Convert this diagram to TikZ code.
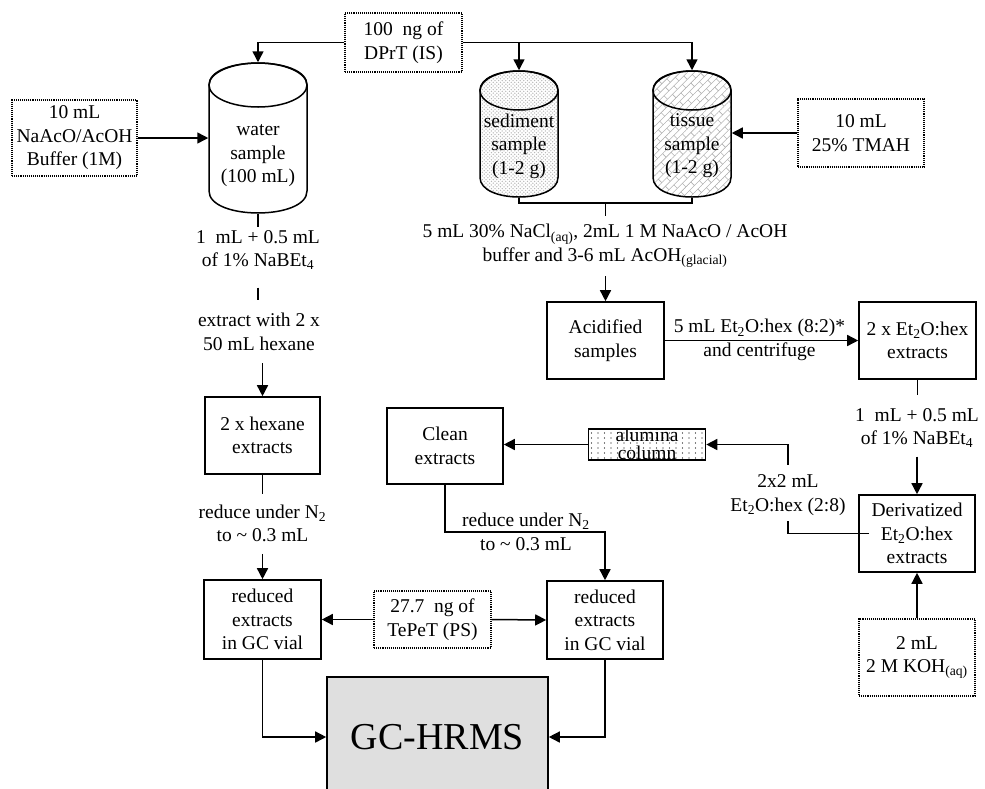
\documentclass[tikz,border=0pt]{standalone}
\usepackage{fontspec}
\setmainfont{Liberation Serif}
\usetikzlibrary{arrows.meta,patterns,patterns.meta}

\pgfdeclarepatternformonly{seddots}{\pgfqpoint{-1pt}{-1pt}}{\pgfqpoint{3.5pt}{3.5pt}}{\pgfqpoint{3.6pt}{3.6pt}}{%
  \pgfpathcircle{\pgfqpoint{0pt}{0pt}}{0.75pt}%
  \pgfpathcircle{\pgfqpoint{1.8pt}{1.8pt}}{0.75pt}%
  \pgfusepath{fill}}
\pgfdeclarepatternformonly{alumdots}{\pgfqpoint{-1pt}{-1pt}}{\pgfqpoint{1pt}{1pt}}{\pgfqpoint{6.5pt}{5pt}}{%
  \pgfpathcircle{\pgfpointorigin}{0.65pt}\pgfusepath{fill}}
\tikzdeclarepattern{
  name=diagbricks, type=uncolored,
  bottom left={(-0.5pt,-0.5pt)}, top right={(14.5pt,10.5pt)},
  tile size={(14pt,10pt)}, tile transformation={rotate=45},
  code={\draw[line width=0.6pt] (0pt,0pt) -- (14pt,0pt) (0pt,5pt) -- (14pt,5pt) (0pt,0pt) -- (0pt,5pt) (7pt,5pt) -- (7pt,10pt);}
}

\begin{document}
\begin{tikzpicture}[x=1pt,y=-1pt,line width=1.5pt,
  every node/.style={font=\fontsize{19.5}{23.5}\selectfont,align=center,inner sep=0pt},
  solidbox/.style={draw,line width=1.6pt,minimum width=117pt,minimum height=77pt},
  dotbox/.style={draw,densely dotted,line width=1.1pt},
  arr/.style={-{Triangle[length=11pt,width=11pt]}},
  cylbody/.style={draw,line width=1.5pt}]
\useasboundingbox (0,0) rectangle (985,788);

% ---- cylinders ----
\path[cylbody] (209,85) -- (209,191) .. controls (209,220.3) and (307,220.3) .. (307,191) -- (307,85) .. controls (307,55.7) and (209,55.7) .. (209,85) -- cycle;
\draw (258,85) ellipse[x radius=49, y radius=22];
\path[cylbody,pattern=seddots,pattern color=gray!55] (480,90.5) -- (480,177.5) .. controls (480,203.5) and (558,203.5) .. (558,177.5) -- (558,90.5) .. controls (558,64.5) and (480,64.5) .. (480,90.5) -- cycle;
\draw (519,90.5) ellipse[x radius=39, y radius=19.5];
\path[cylbody,pattern=diagbricks,pattern color=gray!60] (653,90.5) -- (653,177.5) .. controls (653,203.5) and (731,203.5) .. (731,177.5) -- (731,90.5) .. controls (731,64.5) and (653,64.5) .. (653,90.5) -- cycle;
\draw (692,90.5) ellipse[x radius=39, y radius=19.5];

\node[minimum width=98pt,minimum height=150pt] (water) at (258,138) {};
\node[minimum width=78pt,minimum height=126pt] (sed) at (519,134) {};
\node[minimum width=78pt,minimum height=126pt] (tis) at (692,134) {};
\node (wtext) at (258,156) {water\\sample\\(100 mL)};
\node (stext) at (519,146) {sediment\\sample\\(1-2 g)};
\node (ttext) at (692,146) {tissue\\sample\\(1-2 g)};

% ---- boxes ----
\node[dotbox,minimum width=117pt,minimum height=59pt] (dprt) at (403.5,42.5) {100~~ng of\\DPrT (IS)};
\node[dotbox,minimum width=125pt,minimum height=76pt] (buf) at (74.5,138) {10 mL\\NaAcO/AcOH\\Buffer (1M)};
\node[dotbox,minimum width=126pt,minimum height=68pt] (tmah) at (861,133) {10 mL\\25\% TMAH};
\node[solidbox] (acid) at (605.5,340.5) {Acidified\\samples};
\node[solidbox] (ext2) at (917.5,340.5) {2 x Et\textsubscript{2}O:hex\\extracts};
\node[solidbox,minimum width=116pt] (deriv) at (917,533.5) {Derivatized\\Et\textsubscript{2}O:hex\\extracts};
\node[dotbox,minimum width=116pt,minimum height=77pt] (koh) at (917,657.5) {2 mL\\2 M KOH\textsubscript{(aq)}};
\node[draw,line width=1.6pt,minimum width=117pt,minimum height=31pt,pattern=alumdots] (alum) at (647,444.5) {};
\begin{scope}
\clip (alum.south west) rectangle (alum.north east);
\node[font=\fontsize{19.5}{18}\selectfont] (alumtext) at (647,444) {alumina\\column};
\end{scope}
\node[solidbox,minimum width=116pt,minimum height=76pt] (clean) at (445,446) {Clean\\extracts};
\node[solidbox,minimum width=115pt] (hex) at (262.5,435.5) {2 x hexane\\extracts};
\node[solidbox,minimum height=79pt] (red1) at (262.5,619.5) {reduced\\extracts\\in GC vial};
\node[solidbox,minimum width=116pt,minimum height=78pt] (red2) at (605,620) {reduced\\extracts\\in GC vial};
\node[dotbox,minimum width=117pt,minimum height=57pt] (tepet) at (432.5,619.5) {27.7~~ng of\\TePeT (PS)};
\node[draw,line width=1.6pt,fill=gray!25,minimum width=221pt,minimum height=120pt,font=\fontsize{38}{40}\selectfont] (gc) at (437.5,737) {GC-HRMS};

% ---- labels ----
\node (l1) at (258,250) {1~~mL + 0.5 mL\\of 1\% NaBEt\textsubscript{4}};
\node (l2) at (259,332) {extract with 2 x\\50 mL hexane};
\node (l3) at (262.5,523.5) {reduce under N\textsubscript{2}\\to \textasciitilde{} 0.3 mL};
\node (l4) at (526,532) {reduce under N\textsubscript{2}\\to \textasciitilde{} 0.3 mL};
\node (l5) at (605,246) {5 mL 30\% NaCl\textsubscript{(aq)}, 2mL 1 M NaAcO / AcOH\\buffer and 3-6 mL AcOH\textsubscript{(glacial)}};
\node (l6) at (759.5,340) {5 mL Et\textsubscript{2}O:hex (8:2)*\\and centrifuge};
\node (l7) at (917,428) {1~~mL + 0.5 mL\\of 1\% NaBEt\textsubscript{4}};
\node (l8) at (788,495) {2x2 mL\\Et\textsubscript{2}O:hex (2:8)};

% ---- connectors ----
\draw[arr] (dprt.west) -| (water.north);
\draw[arr] (dprt.east) -| (tis.north);
\draw[arr] (dprt.east -| sed.north) -- (sed.north);
\draw[arr] (buf.east) -- (water.west);
\draw[arr] (tmah.west) -- (tmah.west -| tis.east);
\draw (sed.south) -- ++(0,5) -| (tis.south);
\coordinate (j1) at (605.5,202);
\draw[shorten >=8pt] (j1) -- (j1 |- l5.north);
\draw[arr,shorten <=8pt] (acid.north |- l5.south) -- (acid.north);
\draw[arr] (acid.east) -- (ext2.west);
\draw[shorten >=12pt] (ext2.south) -- (ext2.south |- l7.north);
\draw[arr,shorten <=8pt] (deriv.north |- l7.south) -- (deriv.north);
\draw[arr] (koh.north) -- (deriv.south);
\draw[shorten >=5pt] ([xshift=11pt]deriv.west) -| (l8.south);
\draw[arr,shorten <=9pt] (l8.north) |- (alum.east);
\draw[arr] (alum.west) -- (alum.west -| clean.east);
\draw[arr] (clean.south) -- (clean.south |- l4) -| (red2.north);
\draw[shorten >=2pt] (water.south) -- (l1.north);
\draw[shorten <=17pt,shorten >=13pt] (l1.south) -- (l1.south |- l2.north);
\draw[arr,shorten <=12pt] (hex.north |- l2.south) -- (hex.north);
\draw[shorten >=10pt] (hex.south) -- (l3.north);
\draw[arr,shorten <=11pt] (l3.south) -- (red1.north);
\draw[arr] (tepet.west) -- (red1.east);
\draw[arr] (tepet.east) -- (red2.west);
\draw[arr] (red1.south) |- (gc.west);
\draw[arr] (red2.south) |- (gc.east);
\end{tikzpicture}
\end{document}
